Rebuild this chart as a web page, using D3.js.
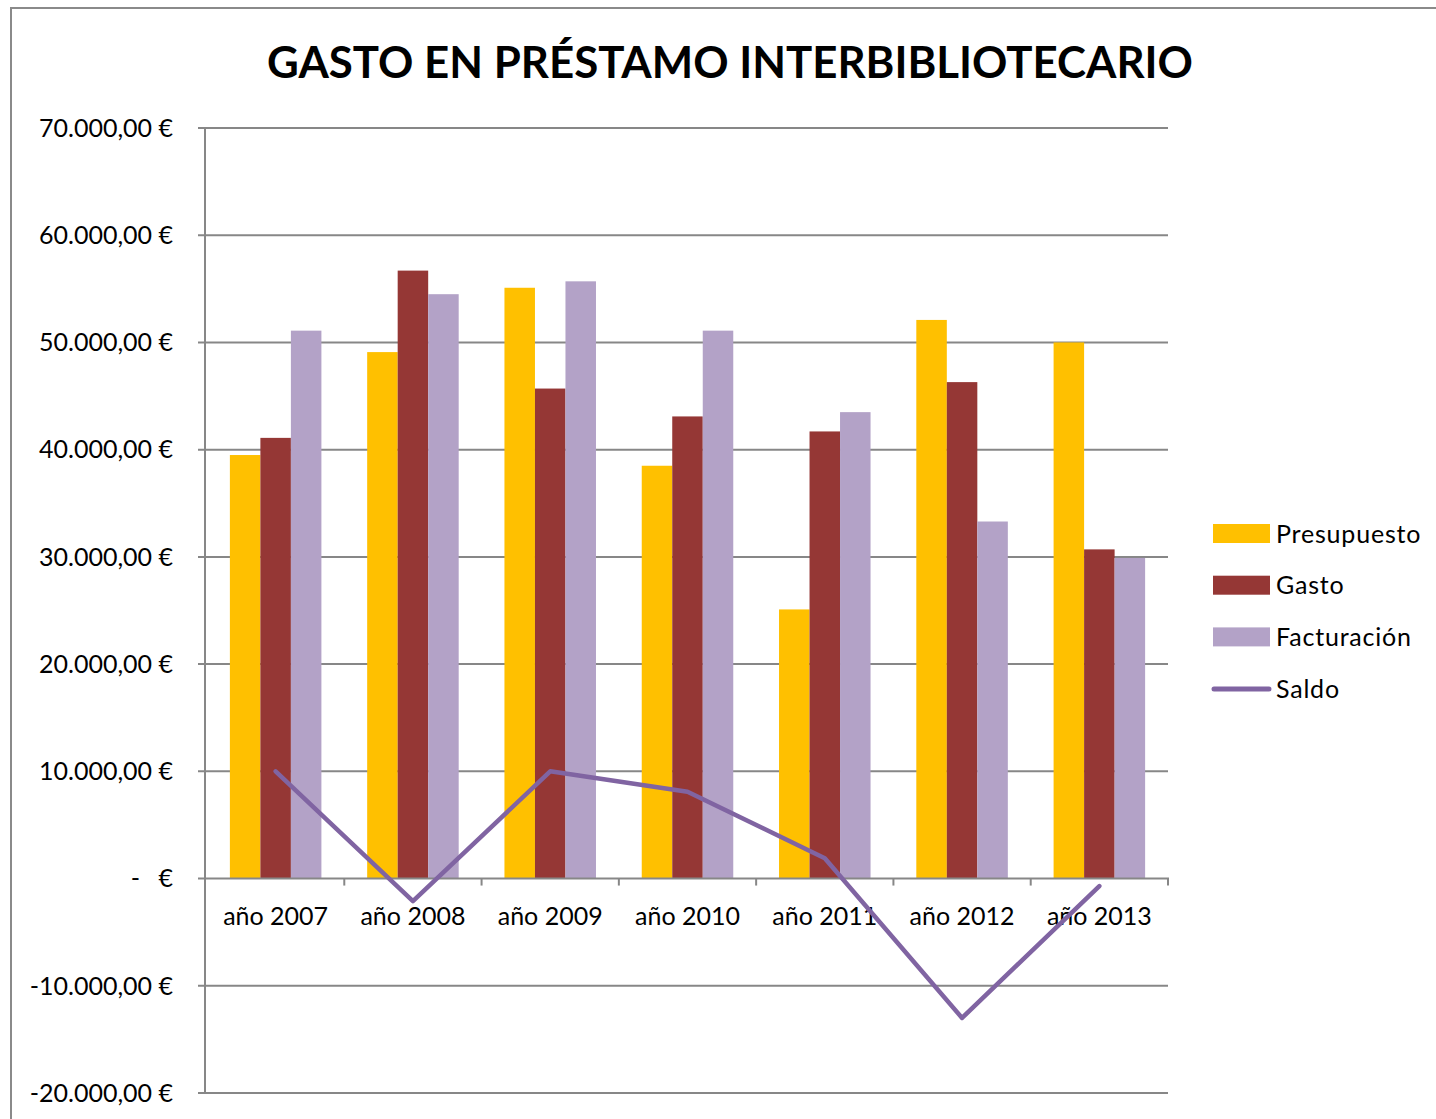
<!DOCTYPE html>
<html>
<head>
<meta charset="utf-8">
<script src="https://cdn.jsdelivr.net/npm/d3@7"></script>
<style>
  html, body { margin: 0; padding: 0; background: #fff; }
  svg { display: block; }
  text { font-family: Lato, "Open Sans", sans-serif; fill: #000; }
</style>
</head>
<body>
<svg id="chart" width="1436" height="1119"></svg>
<script>
// Loan spending per year (€)
const years = ["año 2007", "año 2008", "año 2009", "año 2010", "año 2011", "año 2012", "año 2013"];
const presupuesto = [39500, 49100, 55100, 38500, 25100, 52100, 50000];
const gasto       = [41100, 56700, 45700, 43100, 41700, 46300, 30700];
const facturacion = [51100, 54500, 55700, 51100, 43500, 33300, 29900];
const saldo       = [10000, -2100, 10000, 8100, 1900, -13000, -700];
const yTicks = [-20000, -10000, 0, 10000, 20000, 30000, 40000, 50000, 60000, 70000];

const barSeries = [
  { name: "Presupuesto", values: presupuesto, color: "#FFC000" },
  { name: "Gasto",       values: gasto,       color: "#953735" },
  { name: "Facturación", values: facturacion, color: "#B3A2C7" }
];
const lineSeries = { name: "Saldo", values: saldo, color: "#8064A2" };

const svg = d3.select("#chart");
const W = 1436, H = 1119;
const plot = { left: 205, right: 1168, top: 128, bottom: 1093 };
const gridColor = "#878787";
const labelSize = "25px";

// chart frame
svg.append("rect")
  .attr("x", 11).attr("y", 8)
  .attr("width", W + 20).attr("height", H + 20)
  .attr("fill", "#fff").attr("stroke", "#8a8a8a").attr("stroke-width", 2);

// title
svg.append("text")
  .attr("x", 730).attr("y", 78)
  .attr("text-anchor", "middle")
  .style("font-size", "43px").style("font-weight", "bold")
  .attr("textLength", 926).attr("lengthAdjust", "spacingAndGlyphs")
  .text("GASTO EN PRÉSTAMO INTERBIBLIOTECARIO");

const x = d3.scaleBand().domain(years).range([plot.left + 2, plot.right]).paddingInner(0).paddingOuter(0);
const y = d3.scaleLinear().domain([-20000, 70000]).range([plot.bottom, plot.top]);

// euro formatting with Spanish separators
const fmt = d3.formatLocale({ decimal: ",", thousands: ".", grouping: [3], currency: ["", " €"], minus: "-" }).format(",.2f");

// horizontal gridlines
svg.append("g")
  .selectAll("line").data(yTicks.filter(d => d !== 0)).join("line")
  .attr("x1", plot.left - 7).attr("x2", plot.right)
  .attr("y1", d => y(d)).attr("y2", d => y(d))
  .attr("stroke", gridColor).attr("stroke-width", 2);

// y tick labels
const yLab = svg.append("g");
yTicks.forEach(t => {
  if (t === 0) {
    yLab.append("text").attr("x", 140).attr("y", y(t)).attr("dy", "0.35em")
      .attr("text-anchor", "end").style("font-size", labelSize).text("-");
    yLab.append("text").attr("x", 173).attr("y", y(t)).attr("dy", "0.35em")
      .attr("text-anchor", "end").style("font-size", labelSize).text("€");
  } else {
    yLab.append("text").attr("x", 173).attr("y", y(t)).attr("dy", "0.35em")
      .attr("text-anchor", "end").style("font-size", labelSize).text(fmt(t) + " €");
  }
});

// bars (gap width 150% of a bar)
const barW = x.bandwidth() / 4.5;
const groups = svg.append("g");
barSeries.forEach((s, si) => {
  groups.append("g").selectAll("rect").data(s.values).join("rect")
    .attr("x", (d, i) => x(years[i]) + x.bandwidth() / 2 - 1.5 * barW + si * barW)
    .attr("width", barW)
    .attr("y", d => y(Math.max(0, d)))
    .attr("height", d => Math.abs(y(d) - y(0)))
    .attr("fill", s.color);
});

// value axis line
svg.append("line")
  .attr("x1", plot.left).attr("x2", plot.left)
  .attr("y1", plot.top).attr("y2", plot.bottom)
  .attr("stroke", gridColor).attr("stroke-width", 2);

// category axis at zero
svg.append("line")
  .attr("x1", plot.left - 7).attr("x2", plot.right + 1)
  .attr("y1", y(0)).attr("y2", y(0))
  .attr("stroke", gridColor).attr("stroke-width", 2);
svg.append("g").selectAll("line").data(years).join("line")
  .attr("x1", d => x(d) + x.bandwidth()).attr("x2", d => x(d) + x.bandwidth())
  .attr("y1", y(0)).attr("y2", y(0) + 7)
  .attr("stroke", gridColor).attr("stroke-width", 2);

// category labels
svg.append("g").selectAll("text").data(years).join("text")
  .attr("x", d => x(d) + x.bandwidth() / 2)
  .attr("y", y(0) + 38)
  .attr("dy", "0.35em")
  .attr("text-anchor", "middle")
  .style("font-size", labelSize)
  .text(d => d);

// balance line
const line = d3.line()
  .x((d, i) => x(years[i]) + x.bandwidth() / 2)
  .y(d => y(d));
svg.append("path")
  .datum(lineSeries.values)
  .attr("d", line)
  .attr("fill", "none")
  .attr("stroke", lineSeries.color)
  .attr("stroke-width", 4.5)
  .attr("stroke-linejoin", "round")
  .attr("stroke-linecap", "round");

// legend
const legend = svg.append("g").attr("transform", "translate(1213,534)");
const rowH = 51.7;
barSeries.forEach((s, i) => {
  legend.append("rect").attr("x", 0).attr("y", i * rowH - 10)
    .attr("width", 57).attr("height", 19).attr("fill", s.color);
  legend.append("text").attr("x", 63).attr("y", i * rowH).attr("dy", "0.35em")
    .style("font-size", labelSize).style("letter-spacing", "0.8px").text(s.name);
});
legend.append("line")
  .attr("x1", 1).attr("x2", 56)
  .attr("y1", 3 * rowH).attr("y2", 3 * rowH)
  .attr("stroke", lineSeries.color).attr("stroke-width", 5).attr("stroke-linecap", "round");
legend.append("text").attr("x", 63).attr("y", 3 * rowH).attr("dy", "0.35em")
  .style("font-size", labelSize).style("letter-spacing", "0.8px").text(lineSeries.name);
</script>
</body>
</html>
